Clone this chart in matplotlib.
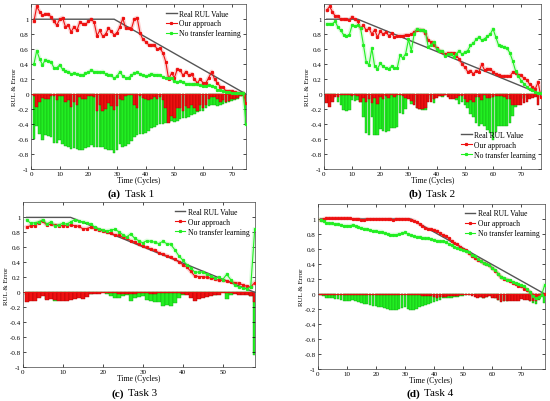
import numpy as np
import matplotlib
matplotlib.use("Agg")
from matplotlib import pyplot as plt
from matplotlib.ticker import FuncFormatter

plt.rcParams["font.family"] = ["Liberation Serif", "DejaVu Serif"]

# ---- Task 1 ----
a_rul_x = [1, 29, 75]
a_rul_y = [1, 1, 0]
a_ours = [0.97, 1.17, 1.10, 1.05, 1.07, 1.07, 1.03, 0.97, 0.92, 1.00,
          1.02, 0.90, 0.92, 0.83, 0.90, 0.85, 0.96, 0.94, 0.93, 0.97,
          1.00, 0.96, 0.78, 0.85, 0.77, 0.80, 0.88, 0.84, 0.79, 0.82,
          0.90, 1.01, 0.88, 0.88, 0.87, 1.00, 1.02, 0.82, 0.73, 0.70,
          0.66, 0.65, 0.66, 0.60, 0.61, 0.55, 0.43, 0.20, 0.28, 0.22,
          0.33, 0.32, 0.25, 0.30, 0.25, 0.27, 0.20, 0.15, 0.20, 0.15,
          0.15, 0.22, 0.30, 0.20, 0.15, 0.10, 0.09, 0.04, 0.04, 0.04,
          0.03, 0.02, 0.01, 0.01, -0.12]
a_plain = [0.40, 0.58, 0.47, 0.39, 0.46, 0.44, 0.43, 0.35, 0.35, 0.39,
           0.33, 0.31, 0.30, 0.27, 0.28, 0.27, 0.26, 0.25, 0.28, 0.29,
           0.32, 0.30, 0.30, 0.29, 0.30, 0.27, 0.26, 0.25, 0.21, 0.24,
           0.30, 0.24, 0.22, 0.22, 0.25, 0.28, 0.29, 0.27, 0.25, 0.24,
           0.25, 0.27, 0.26, 0.26, 0.25, 0.23, 0.22, 0.22, 0.21, 0.17,
           0.16, 0.17, 0.16, 0.14, 0.14, 0.13, 0.13, 0.13, 0.12, 0.11,
           0.11, 0.12, 0.11, 0.10, 0.06, 0.06, 0.04, 0.03, 0.03, 0.02,
           0.01, 0.01, 0.01, 0.02, -0.40]
a_err_ours = [0.03, 0.17, 0.10, 0.05, 0.07, 0.07, 0.03, 0.03, 0.08, 0.02,
              0.02, 0.10, 0.08, 0.17, 0.10, 0.15, 0.04, 0.06, 0.07, 0.03,
              0.02, 0.04, 0.22, 0.15, 0.23, 0.20, 0.12, 0.16, 0.21, 0.16,
              0.06, 0.08, 0.03, 0.01, 0.01, 0.15, 0.19, 0.02, 0.05, 0.06,
              0.08, 0.07, 0.04, 0.07, 0.04, 0.08, 0.18, 0.39, 0.29, 0.32,
              0.19, 0.18, 0.23, 0.16, 0.19, 0.14, 0.19, 0.22, 0.15, 0.18,
              0.15, 0.06, 0.04, 0.04, 0.07, 0.10, 0.08, 0.11, 0.09, 0.07,
              0.06, 0.05, 0.03, 0.01, 0.12]
a_err_plain = [0.60, 0.42, 0.53, 0.61, 0.54, 0.56, 0.57, 0.65, 0.65, 0.61,
               0.67, 0.69, 0.70, 0.73, 0.72, 0.73, 0.74, 0.75, 0.72, 0.71,
               0.68, 0.70, 0.70, 0.71, 0.70, 0.73, 0.74, 0.75, 0.79, 0.74,
               0.66, 0.70, 0.69, 0.67, 0.62, 0.57, 0.54, 0.53, 0.53, 0.52,
               0.49, 0.45, 0.44, 0.41, 0.40, 0.40, 0.39, 0.37, 0.36, 0.37,
               0.36, 0.33, 0.32, 0.32, 0.30, 0.28, 0.26, 0.24, 0.23, 0.22,
               0.19, 0.16, 0.15, 0.14, 0.16, 0.14, 0.13, 0.12, 0.10, 0.09,
               0.08, 0.06, 0.03, 0.02, 0.40]

# ---- Task 2 ----
b_rul_x = [1, 12, 77]
b_rul_y = [1, 1, 0]
b_ours = [1.12, 1.17, 1.10, 1.04, 1.04, 1.00, 1.00, 1.00, 0.99, 1.03,
          1.00, 0.97, 0.88, 0.92, 0.85, 0.88, 0.80, 0.86, 0.76, 0.84,
          0.80, 0.83, 0.78, 0.81, 0.76, 0.78, 0.78, 0.78, 0.79, 0.79,
          0.80, 0.83, 0.86, 0.86, 0.85, 0.81, 0.72, 0.70, 0.65, 0.62,
          0.58, 0.56, 0.53, 0.55, 0.55, 0.55, 0.51, 0.47, 0.40, 0.36,
          0.30, 0.31, 0.27, 0.31, 0.30, 0.40, 0.32, 0.34, 0.33, 0.30,
          0.27, 0.26, 0.24, 0.24, 0.24, 0.24, 0.29, 0.28, 0.26, 0.25,
          0.21, 0.19, 0.13, 0.10, 0.07, 0.16, -0.04]
b_plain = [0.94, 0.94, 0.94, 0.97, 0.89, 0.85, 0.79, 0.78, 0.79, 0.92,
           0.91, 0.92, 0.88, 0.66, 0.43, 0.39, 0.61, 0.37, 0.34, 0.41,
           0.37, 0.35, 0.34, 0.37, 0.35, 0.35, 0.52, 0.48, 0.54, 0.73,
           0.58, 0.80, 0.87, 0.86, 0.86, 0.84, 0.63, 0.66, 0.70, 0.60,
           0.57, 0.58, 0.51, 0.53, 0.54, 0.50, 0.54, 0.58, 0.53, 0.56,
           0.58, 0.65, 0.68, 0.73, 0.76, 0.72, 0.74, 0.77, 0.80, 0.87,
           0.76, 0.65, 0.64, 0.63, 0.61, 0.55, 0.44, 0.31, 0.24, 0.18,
           0.14, 0.10, 0.07, 0.05, 0.03, 0.02, 0.01]
b_err_ours = [0.12, 0.17, 0.10, 0.04, 0.04, 0.01, 0.01, 0.01, 0.01, 0.03,
              0.01, 0.03, 0.11, 0.05, 0.10, 0.06, 0.12, 0.05, 0.13, 0.04,
              0.06, 0.02, 0.05, 0.01, 0.04, 0.01, 0.01, 0.03, 0.05, 0.07,
              0.09, 0.14, 0.18, 0.20, 0.20, 0.18, 0.10, 0.10, 0.07, 0.05,
              0.03, 0.02, 0.01, 0.04, 0.06, 0.07, 0.05, 0.02, 0.03, 0.06,
              0.10, 0.08, 0.10, 0.04, 0.04, 0.08, 0.01, 0.05, 0.05, 0.04,
              0.02, 0.03, 0.02, 0.04, 0.06, 0.07, 0.14, 0.14, 0.14, 0.14,
              0.12, 0.11, 0.07, 0.05, 0.04, 0.15, 0.04]
b_err_plain = [0.06, 0.06, 0.06, 0.03, 0.11, 0.15, 0.21, 0.22, 0.21, 0.08,
               0.09, 0.08, 0.11, 0.31, 0.52, 0.55, 0.31, 0.54, 0.55, 0.47,
               0.49, 0.50, 0.49, 0.45, 0.45, 0.44, 0.25, 0.27, 0.20, 0.01,
               0.13, 0.11, 0.19, 0.20, 0.21, 0.21, 0.02, 0.06, 0.12, 0.03,
               0.02, 0.04, 0.01, 0.02, 0.05, 0.02, 0.08, 0.13, 0.10, 0.15,
               0.18, 0.27, 0.31, 0.38, 0.42, 0.40, 0.43, 0.48, 0.52, 0.61,
               0.51, 0.42, 0.42, 0.43, 0.43, 0.38, 0.29, 0.17, 0.12, 0.07,
               0.05, 0.02, 0.01, 0.00, 0.00, 0.00, 0.01]

# ---- Task 3 ----
c_rul_x = [1, 12, 58]
c_rul_y = [1, 1, 0]
c_ours = [0.87, 0.89, 0.89, 0.93, 0.95, 0.90, 0.91, 0.90, 0.89, 0.89,
          0.89, 0.90, 0.89, 0.88, 0.85, 0.85, 0.87, 0.85, 0.83, 0.82,
          0.80, 0.79, 0.77, 0.76, 0.74, 0.72, 0.69, 0.67, 0.64, 0.62,
          0.60, 0.58, 0.56, 0.53, 0.51, 0.49, 0.47, 0.44, 0.41, 0.37,
          0.34, 0.28, 0.22, 0.21, 0.21, 0.20, 0.19, 0.18, 0.16, 0.16,
          0.15, 0.14, 0.13, 0.12, 0.10, 0.08, 0.07, 0.13]
c_plain = [0.97, 0.92, 0.93, 0.94, 0.97, 0.91, 0.94, 0.89, 0.90, 0.92,
           0.91, 0.94, 0.97, 0.95, 0.94, 0.93, 0.91, 0.87, 0.84, 0.83,
           0.82, 0.83, 0.84, 0.81, 0.77, 0.74, 0.78, 0.72, 0.69, 0.66,
           0.69, 0.68, 0.67, 0.65, 0.68, 0.65, 0.64, 0.57, 0.49, 0.43,
           0.37, 0.33, 0.27, 0.27, 0.27, 0.24, 0.22, 0.19, 0.20, 0.17,
           0.24, 0.17, 0.10, 0.07, 0.06, 0.05, 0.07, 0.84]
c_err_ours = [0.13, 0.11, 0.11, 0.07, 0.05, 0.10, 0.09, 0.10, 0.11, 0.11,
              0.11, 0.10, 0.09, 0.08, 0.09, 0.06, 0.02, 0.02, 0.02, 0.01,
              0.01, 0.01, 0.01, 0.02, 0.02, 0.02, 0.02, 0.02, 0.01, 0.01,
              0.01, 0.02, 0.02, 0.01, 0.01, 0.01, 0.01, 0.01, 0.01, 0.02,
              0.03, 0.07, 0.11, 0.09, 0.07, 0.06, 0.05, 0.04, 0.04, 0.01,
              0.01, 0.01, 0.02, 0.03, 0.04, 0.04, 0.05, 0.13]
c_err_plain = [0.03, 0.08, 0.07, 0.06, 0.03, 0.09, 0.06, 0.11, 0.10, 0.08,
               0.09, 0.06, 0.01, 0.01, 0.01, 0.02, 0.02, 0.00, 0.01, 0.00,
               0.02, 0.05, 0.08, 0.07, 0.05, 0.04, 0.11, 0.07, 0.06, 0.05,
               0.10, 0.12, 0.13, 0.13, 0.18, 0.17, 0.18, 0.14, 0.08, 0.04,
               0.00, 0.02, 0.06, 0.03, 0.01, 0.02, 0.02, 0.03, 0.00, 0.00,
               0.09, 0.04, 0.01, 0.02, 0.01, 0.01, 0.05, 0.84]

# ---- Task 4 ----
d_rul_x = [1, 32, 78]
d_rul_y = [1, 1, 0]
d_ours = [0.99, 1.00, 1.01, 1.01, 1.01, 1.01, 1.01, 1.01, 1.01, 1.01,
          1.01, 1.00, 1.00, 1.00, 0.99, 0.99, 1.00, 1.00, 1.00, 1.00,
          1.00, 1.00, 1.00, 1.00, 1.00, 0.99, 1.00, 1.00, 1.00, 1.00,
          1.00, 0.99, 0.98, 0.96, 0.93, 0.91, 0.88, 0.87, 0.86, 0.85,
          0.84, 0.81, 0.79, 0.77, 0.74, 0.71, 0.68, 0.66, 0.63, 0.60,
          0.58, 0.54, 0.51, 0.48, 0.45, 0.44, 0.41, 0.40, 0.38, 0.34,
          0.31, 0.27, 0.22, 0.20, 0.19, 0.17, 0.15, 0.13, 0.11, 0.10,
          0.07, 0.05, 0.02, -0.01, -0.02, -0.03, -0.01, 0.00]
d_plain = [0.99, 0.97, 0.95, 0.94, 0.94, 0.93, 0.93, 0.92, 0.91, 0.91,
           0.91, 0.92, 0.90, 0.89, 0.88, 0.87, 0.86, 0.85, 0.84, 0.84,
           0.83, 0.83, 0.81, 0.80, 0.79, 0.79, 0.79, 0.80, 0.81, 0.82,
           0.80, 0.78, 0.77, 0.76, 0.76, 0.75, 0.74, 0.74, 0.73, 0.72,
           0.71, 0.70, 0.70, 0.69, 0.67, 0.65, 0.63, 0.61, 0.60, 0.58,
           0.57, 0.56, 0.52, 0.50, 0.47, 0.44, 0.41, 0.40, 0.39, 0.35,
           0.32, 0.27, 0.23, 0.21, 0.19, 0.18, 0.16, 0.14, 0.13, 0.12,
           0.10, 0.06, 0.02, -0.03, -0.06, -0.04, -0.01, 0.12]
d_err_ours = [0.01, 0.01, 0.01, 0.01, 0.01, 0.01, 0.01, 0.01, 0.01, 0.01,
              0.01, 0.01, 0.01, 0.01, 0.01, 0.01, 0.01, 0.01, 0.01, 0.01,
              0.01, 0.01, 0.01, 0.01, 0.01, 0.01, 0.01, 0.01, 0.01, 0.01,
              0.01, 0.01, 0.01, 0.01, 0.02, 0.03, 0.03, 0.03, 0.03, 0.04,
              0.05, 0.04, 0.04, 0.04, 0.03, 0.03, 0.03, 0.03, 0.02, 0.02,
              0.02, 0.02, 0.03, 0.04, 0.05, 0.04, 0.05, 0.04, 0.03, 0.05,
              0.06, 0.08, 0.11, 0.10, 0.09, 0.09, 0.09, 0.09, 0.09, 0.07,
              0.08, 0.08, 0.09, 0.10, 0.09, 0.07, 0.03, 0.01]
d_err_plain = [0.01, 0.03, 0.05, 0.06, 0.06, 0.07, 0.07, 0.08, 0.09, 0.09,
               0.09, 0.08, 0.10, 0.11, 0.12, 0.13, 0.14, 0.15, 0.16, 0.16,
               0.17, 0.17, 0.19, 0.20, 0.21, 0.21, 0.21, 0.20, 0.19, 0.18,
               0.20, 0.22, 0.21, 0.20, 0.18, 0.16, 0.15, 0.13, 0.12, 0.11,
               0.09, 0.08, 0.06, 0.05, 0.05, 0.05, 0.04, 0.04, 0.03, 0.03,
               0.02, 0.01, 0.02, 0.02, 0.03, 0.04, 0.05, 0.04, 0.02, 0.04,
               0.05, 0.08, 0.10, 0.09, 0.09, 0.08, 0.08, 0.08, 0.07, 0.05,
               0.05, 0.07, 0.09, 0.12, 0.13, 0.08, 0.03, 0.12]

legend_labels = ["Real RUL Value", "Our approach", "No transfer learning"]
x_ticks = [0, 10, 20, 30, 40, 50, 60, 70]
y_ticks = [-1, -0.8, -0.6, -0.4, -0.2, 0, 0.2, 0.4, 0.6, 0.8, 1]

RED = "#ee1111"
GREEN = "#22ee22"
GREY = "#555555"


def draw_panel(ax, rul_x, rul_y, ours, plain, err_ours, err_plain, leg_loc, leg_anchor):
    x = np.arange(1, len(ours) + 1)
    # errors drawn downward, green under red
    ax.bar(x, -np.array(err_plain), width=0.9, color=GREEN, edgecolor="#11aa11", linewidth=0.3, zorder=1)
    ax.bar(x, -np.array(err_ours), width=0.9, color=RED, edgecolor="#aa0000", linewidth=0.3, zorder=2)
    # light halo under the prediction lines
    ax.plot(x, ours, color=RED, lw=3, alpha=0.18, zorder=3)
    ax.plot(x, plain, color=GREEN, lw=3, alpha=0.15, zorder=3)
    l1, = ax.plot(rul_x, rul_y, color=GREY, lw=1.0, zorder=4)
    l2, = ax.plot(x, ours, color=RED, lw=0.8, marker="s", ms=1.3, zorder=5)
    l3, = ax.plot(x, plain, color=GREEN, lw=0.8, marker="s", ms=1.3, zorder=5)
    ax.axhline(0, color=RED, lw=0.6, zorder=2)

    ax.set_xticks(x_ticks)
    ax.set_yticks(y_ticks)
    ax.set_xlim(0, len(ours))
    ax.set_ylim(-1, 1.2)
    ax.yaxis.set_major_formatter(FuncFormatter(lambda v, p: "%g" % round(v, 1)))
    ax.tick_params(direction="in", length=2, width=0.5, labelsize=5, pad=1.5,
                   top=True, right=True)
    for s in ax.spines.values():
        s.set_linewidth(0.5)
        s.set_color("#444444")
    ax.set_xlabel("Time (Cycles)", fontsize=5.5, labelpad=0)
    ax.set_ylabel("RUL & Error", fontsize=5, labelpad=0.5)
    ax.legend([l1, l2, l3], legend_labels, loc=leg_loc, bbox_to_anchor=leg_anchor,
              frameon=False, fontsize=5.5, handlelength=1.4, handletextpad=0.3,
              labelspacing=0.25, borderaxespad=0.3)


fig = plt.figure(figsize=(5.5, 4.02), dpi=100)

ax_a = fig.add_axes([0.0564, 0.577, 0.391, 0.41])
draw_panel(ax_a, a_rul_x, a_rul_y, a_ours, a_plain, a_err_ours, a_err_plain,
           "upper right", (1.0, 1.0))
ax_b = fig.add_axes([0.589, 0.577, 0.3945, 0.41])
draw_panel(ax_b, b_rul_x, b_rul_y, b_ours, b_plain, b_err_ours, b_err_plain,
           "lower right", (1.0, 0.03))
ax_c = fig.add_axes([0.0413, 0.084, 0.4218, 0.41])
draw_panel(ax_c, c_rul_x, c_rul_y, c_ours, c_plain, c_err_ours, c_err_plain,
           "upper right", (1.0, 1.0))
ax_d = fig.add_axes([0.5776, 0.08, 0.4127, 0.41])
draw_panel(ax_d, d_rul_x, d_rul_y, d_ours, d_plain, d_err_ours, d_err_plain,
           "upper right", (1.0, 1.0))

# captions under each panel
captions = [("(a)", "Task 1", 0.238, 0.517), ("(b)", "Task 2", 0.785, 0.517),
            ("(c)", "Task 3", 0.244, 0.020), ("(d)", "Task 4", 0.782, 0.020)]
for tag, name, cx, cy in captions:
    fig.text(cx - 0.018, cy, tag, fontsize=8, fontweight="bold", ha="right", va="center")
    fig.text(cx - 0.011, cy, name, fontsize=8, ha="left", va="center")

fig.savefig("out.png", dpi=100)
